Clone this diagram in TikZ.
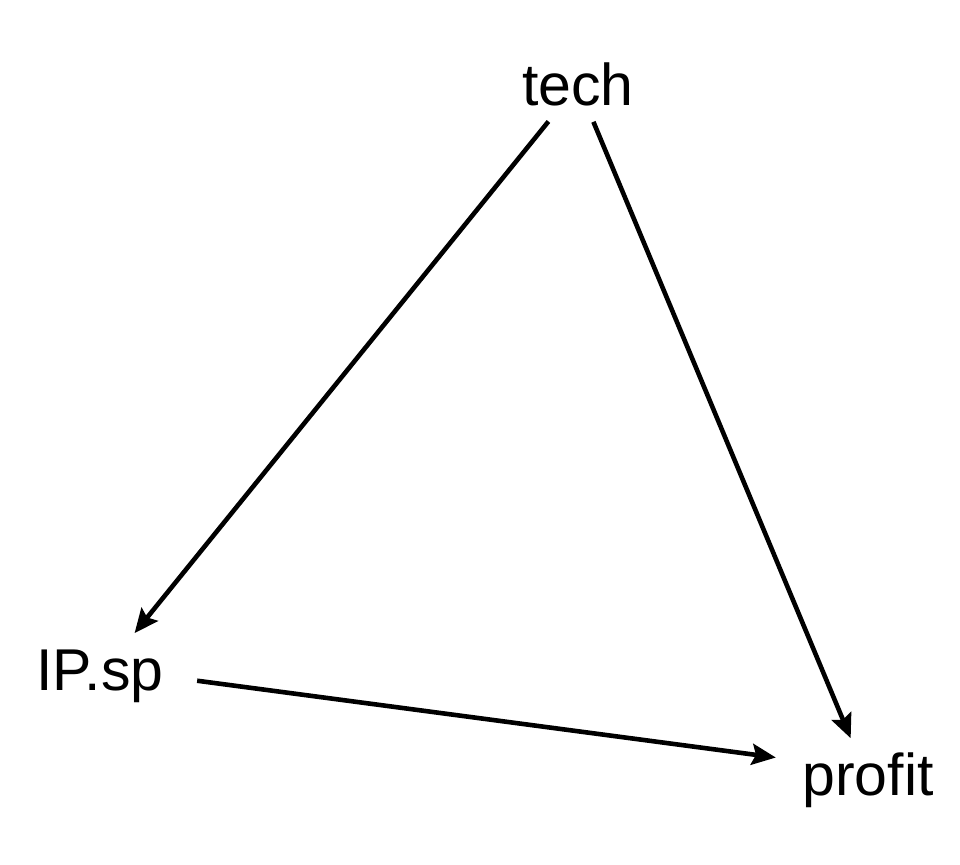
\documentclass[tikz,border=0pt]{standalone}
\usepackage{fontspec}
\setmainfont{Liberation Sans}
\usetikzlibrary{arrows.meta}
\begin{document}
\begin{tikzpicture}[x=1pt,y=-1pt,
  lbl/.style={inner sep=0pt,font=\fontsize{59}{67}\selectfont},
  arr/.style={line width=4.6pt,-{Stealth[length=24pt,width=21pt,inset=4pt]}}]
\useasboundingbox (0,0) rectangle (960,864);
\node[lbl,anchor=base] (tech) at (578,106) {tech};
\node[lbl,anchor=base] (ipsp) at (100,690) {IP.sp};
\node[lbl,anchor=base] (profit) at (868,795) {profit};
\draw[arr,shorten <=47pt,shorten >=55pt] (tech.center) -- (ipsp.center);
\draw[arr,shorten <=40pt,shorten >=45pt] (tech.center) -- (profit.center);
\draw[arr,shorten <=98pt,shorten >=93pt] ([yshift=8pt]ipsp.center) -- ([yshift=10pt]profit.center);
\end{tikzpicture}
\end{document}
